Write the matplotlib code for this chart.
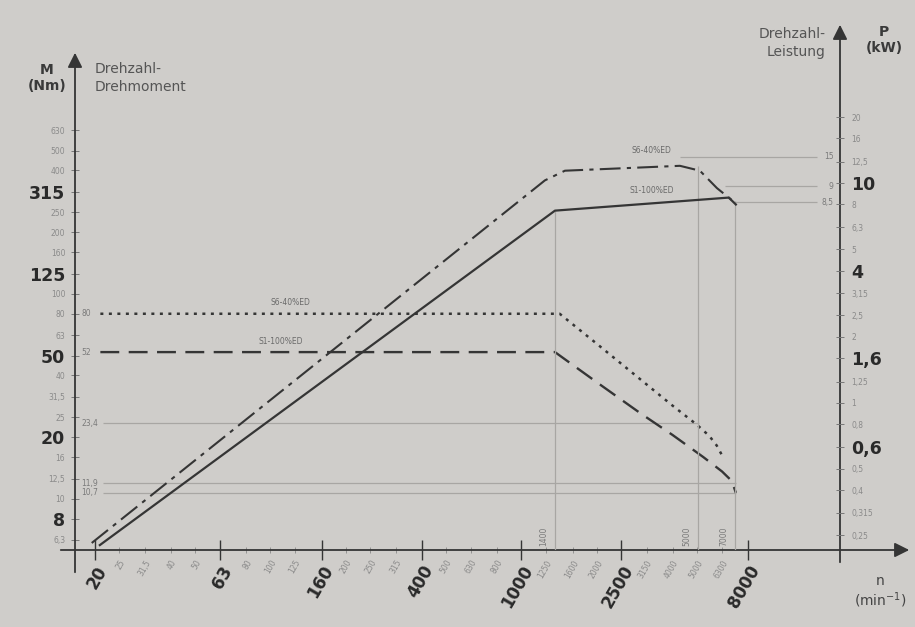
import matplotlib.pyplot as plt

# axis scale values (R10 series)
n_ticks = [20, 25, 31.5, 40, 50, 63, 80, 100, 125, 160, 200, 250, 315, 400, 500,
           630, 800, 1000, 1250, 1600, 2000, 2500, 3150, 4000, 5000, 6300, 8000]
n_big = [20, 63, 160, 400, 1000, 2500, 8000]
M_ticks = [6.3, 8, 10, 12.5, 16, 20, 25, 31.5, 40, 50, 63, 80, 100, 125, 160,
           200, 250, 315, 400, 500, 630]
M_big = [8, 20, 50, 125, 315]
P_ticks = [0.25, 0.315, 0.4, 0.5, 0.63, 0.8, 1, 1.25, 1.6, 2, 2.5, 3.15, 4, 5,
           6.3, 8, 10, 12.5, 16, 20]
P_big = [0.63, 1.6, 4, 10]

# torque curves (Nm over min^-1)
s1_torque_n = [21, 1360, 2000, 3000, 4000, 5300, 6300, 6900, 7150]
s1_torque_M = [52, 52, 37, 26, 20.5, 16, 13.6, 12.2, 10.7]
s6_torque_n = [21, 1420, 2000, 3000, 4000, 5000, 5600, 6000, 6300]
s6_torque_M = [80, 80, 57, 38, 28.5, 23, 20.3, 18.2, 16.3]

# power curves (kW over min^-1)
s1_power_n = [20.9, 1360, 6700, 7150]
s1_power_P = [0.225, 7.5, 8.6, 8.0]
s6_power_n = [19.4, 1240, 1490, 4280, 5140, 6010, 6960]
s6_power_P = [0.23, 10.3, 11.4, 12.0, 11.4, 9.5, 8.3]

# reference lines
ref_M = [23.4, 11.9, 10.7]
ref_M_end = [5100, 7150, 7150]
ref_M_lbl = ['23,4', '11,9', '10,7']
ref_P = [13.2, 9.7, 8.2]
ref_P_start = [4300, 6500, 7000]
ref_P_lbl = ['15', '9', '8,5']
ref_n = [1360, 5050, 7100]
ref_n_top = [7.5, 12.0, 8.3]
ref_n_lbl = ['1400', '5000', '7000']

bg = '#cfcdca'
ink = '#353535'
ref_col = '#a8a6a3'
W, H = 915, 627


def fp(x, y):
    return x / W, 1 - y / H


def lbl(v):
    s = ('%g' % v).replace('.', ',')
    return '0,6' if v == 0.63 and v in P_big else s


fig = plt.figure(figsize=(9.15, 6.27), dpi=100)
fig.patch.set_facecolor(bg)
ax = fig.add_axes([75 / W, 77 / H, 765 / W, 465 / H])
ax.set_facecolor(bg)
ax.set_xscale('log')
ax.set_yscale('log')
ax.set_xlim(16.64, 18590)
ax.set_ylim(5.63, 1045)
ax2 = ax.twinx()
ax2.set_yscale('log')
ax2.set_ylim(0.2137, 28.0)
for a in (ax, ax2):
    for s in a.spines.values():
        s.set_visible(False)

# ticks
n_small = [v for v in n_ticks if v not in n_big]
ax.set_xticks(n_big, [lbl(v) for v in n_big])
ax.set_xticks(n_small, [lbl(v) for v in n_small], minor=True)
ax.tick_params(axis='x', which='major', direction='inout', length=14, width=1,
               color=ink, labelsize=12, labelcolor='#2a2a2a', pad=2)
ax.tick_params(axis='x', which='minor', direction='inout', length=4, width=0.6,
               color='#888', labelsize=5.5, labelcolor='#8a8a8a', pad=4)
for t in ax.get_xticklabels(which='both'):
    t.set_rotation(60)
    t.set_ha('right')
    t.set_rotation_mode('anchor')
for t in ax.get_xticklabels():
    t.set_fontweight('bold')

ax.set_yticks(M_ticks, [lbl(v) for v in M_ticks])
ax.yaxis.set_minor_locator(plt.NullLocator())
ax.tick_params(axis='y', direction='inout', length=6, width=0.7, color='#777',
               labelsize=5.5, labelcolor='#8a8a8a', pad=4)
for t, v in zip(ax.get_yticklabels(), M_ticks):
    if v in M_big:
        t.set_fontsize(12.5)
        t.set_fontweight('bold')
        t.set_color('#2a2a2a')

ax2.set_yticks(P_ticks, [lbl(v) for v in P_ticks])
ax2.yaxis.set_minor_locator(plt.NullLocator())
ax2.tick_params(axis='y', direction='inout', length=6, width=0.7, color='#777',
                labelsize=5.5, labelcolor='#8a8a8a', pad=5)
for t, v in zip(ax2.get_yticklabels(), P_ticks):
    if v in P_big:
        t.set_fontsize(12.5)
        t.set_fontweight('bold')
        t.set_color('#2a2a2a')

# axis lines with arrows
arrow = dict(arrowstyle='-|>', color=ink, lw=1.3, mutation_scale=22)
ax.annotate('', xy=(75, H - 50), xytext=(75, H - 575),
            xycoords='figure pixels', textcoords='figure pixels', arrowprops=arrow)
ax.annotate('', xy=(840, H - 22), xytext=(840, H - 565),
            xycoords='figure pixels', textcoords='figure pixels', arrowprops=arrow)
ax.annotate('', xy=(912, 77), xytext=(58, 77),
            xycoords='figure pixels', textcoords='figure pixels', arrowprops=arrow)

# reference lines
ax.hlines(ref_M, 21.5, ref_M_end, color=ref_col, lw=0.9)
for v, t in zip(ref_M, ref_M_lbl):
    ax.text(17.6, v, t, fontsize=5.5, color='#7a7a7a', va='center', ha='left')
ax2.hlines(ref_P, ref_P_start, 15000, color=ref_col, lw=0.9)
for v, t in zip(ref_P, ref_P_lbl):
    ax2.text(17500, v, t, fontsize=5.5, color='#7a7a7a', va='center', ha='right')
ax2.vlines(ref_n, 0.2137, ref_n_top, color=ref_col, lw=0.9)
for v, t in zip(ref_n, ref_n_lbl):
    ax.text(v * 0.9, 5.9, t, fontsize=5.5, color='#7a7a7a', rotation=90,
            ha='center', va='bottom')

# curves
ax.plot(s1_torque_n, s1_torque_M, color=ink, lw=1.7, ls=(0, (8, 4)))
ax.plot(s6_torque_n, s6_torque_M, color=ink, lw=1.8, ls=(0, (1.2, 2.2)))
ax2.plot(s1_power_n, s1_power_P, color=ink, lw=1.6)
ax2.plot(s6_power_n, s6_power_P, color=ink, lw=1.5, ls=(0, (10, 3, 2, 3)))

ax.text(17.6, 80, '80', fontsize=5.5, color='#7a7a7a', va='center')
ax.text(17.6, 52, '52', fontsize=5.5, color='#7a7a7a', va='center')
ax.text(120, 86, 'S6-40%ED', fontsize=5.5, color='#6a6a6a', ha='center', va='bottom')
ax.text(110, 56, 'S1-100%ED', fontsize=5.5, color='#6a6a6a', ha='center', va='bottom')
ax2.text(3300, 13.4, 'S6-40%ED', fontsize=5.5, color='#6a6a6a', ha='center', va='bottom')
ax2.text(3300, 9.3, 'S1-100%ED', fontsize=5.5, color='#6a6a6a', ha='center', va='center')

# axis titles
fig.text(*fp(47, 78), 'M\n(Nm)', fontsize=10, fontweight='bold', color='#3a3a3a',
         ha='center', va='center', linespacing=1.2)
fig.text(*fp(95, 78), 'Drehzahl-\nDrehmoment', fontsize=10, color='#555',
         ha='left', va='center', linespacing=1.3)
fig.text(*fp(826, 43), 'Drehzahl-\nLeistung', fontsize=10, color='#555',
         ha='right', va='center', linespacing=1.3)
fig.text(*fp(884, 40), 'P\n(kW)', fontsize=10, fontweight='bold', color='#3a3a3a',
         ha='center', va='center', linespacing=1.2)
fig.text(*fp(880, 592), 'n\n(min$^{-1}$)', fontsize=10, color='#444',
         ha='center', va='center', linespacing=1.2)

fig.savefig('out.png', dpi=100, facecolor=bg)
